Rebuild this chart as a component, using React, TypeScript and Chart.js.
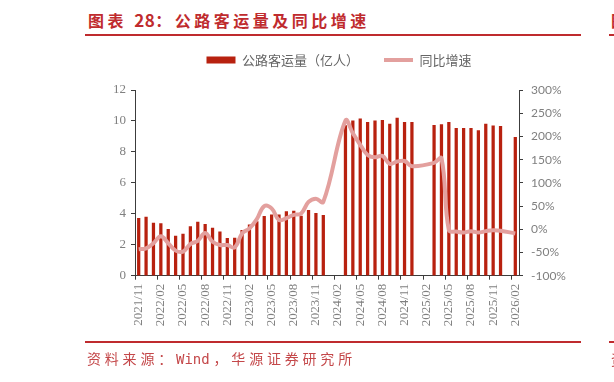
import React, { useEffect, useRef } from "react";
import { Chart, registerables } from "chart.js";

Chart.register(...registerables);

const categories: string[] = [
  "2021/11", "2021/12",
  "2022/01", "2022/02", "2022/03", "2022/04", "2022/05", "2022/06", "2022/07", "2022/08", "2022/09", "2022/10", "2022/11", "2022/12",
  "2023/01", "2023/02", "2023/03", "2023/04", "2023/05", "2023/06", "2023/07", "2023/08", "2023/09", "2023/10", "2023/11", "2023/12",
  "2024/01", "2024/02", "2024/03", "2024/04", "2024/05", "2024/06", "2024/07", "2024/08", "2024/09", "2024/10", "2024/11", "2024/12",
  "2025/01", "2025/02", "2025/03", "2025/04", "2025/05", "2025/06", "2025/07", "2025/08", "2025/09", "2025/10", "2025/11", "2025/12",
  "2026/01", "2026/02",
];

// 公路客运量（亿人）
const volume: (number | null)[] = [
  3.71, 3.79,
  3.40, 3.36, 3.00, 2.56, 2.69, 3.17, 3.47, 3.32, 3.08, 2.84, 2.41, 2.43,
  2.93, 3.28, 3.50, 3.84, 3.94, 3.94, 4.14, 4.18, 3.86, 4.22, 4.03, 3.90,
  null, null, 9.70, 10.00, 10.13, 9.91, 10.00, 10.04, 9.80, 10.19, 9.91, 9.91,
  null, null, 9.72, 9.76, 9.91, 9.53, 9.53, 9.53, 9.38, 9.80, 9.68, 9.66,
  null, 8.94,
];

// 同比增速（%）
const growth: (number | null)[] = [
  -43, -41,
  -30, -15, -30, -46, -48, -32, -25, -8, -27, -34, -34, -39,
  -9, 2, 22, 50, 45, 20, 24, 31, 34, 59, 66, 59,
  null, null, 234, 207, 182, 160, 155, 158, 141, 146, 147, 136,
  null, null, 143, 153, -2, -5, -7, -4, -7, -4, -2, -3,
  null, -9,
];

const leftTicks: number[] = [0, 2, 4, 6, 8, 10, 12];
const rightTicks: number[] = [-100, -50, 0, 50, 100, 150, 200, 250, 300];

const BAR = "#B8210F";
const LINE = "#E3A09E";
const AXIS = "#3c3c3c";
const TICK_TEXT = "#808080";
const RED = "#BF2B2E";

const legendSpacer = {
  id: "legendSpacer",
  beforeInit(chart: any) {
    const lg = chart.legend;
    if (!lg) return;
    const orig = lg.fit;
    lg.fit = function () {
      orig.call(this);
      this.height += 13.5;
    };
  },
};

export default function App() {
  const ref = useRef<HTMLCanvasElement | null>(null);

  useEffect(() => {
    if (!ref.current) return;
    const chart = new Chart(ref.current, {
      type: "bar",
      data: {
        labels: categories,
        datasets: [
          {
            type: "bar",
            label: "公路客运量（亿人）",
            data: volume,
            backgroundColor: BAR,
            borderWidth: 0,
            barThickness: 2.6,
            yAxisID: "y",
            order: 2,
            pointStyle: "rect",
          } as any,
          {
            type: "line",
            label: "同比增速",
            data: growth,
            borderColor: LINE,
            backgroundColor: LINE,
            borderWidth: 4,
            pointRadius: 0,
            pointHoverRadius: 0,
            tension: 0.4,
            spanGaps: true,
            yAxisID: "y1",
            order: 1,
            pointStyle: "line",
          } as any,
        ],
      },
      options: {
        animation: false,
        responsive: false,
        maintainAspectRatio: false,
        layout: { padding: { left: 74, right: 10, top: 28.5, bottom: 0 } },
        plugins: {
          legend: {
            position: "top",
            labels: {
              usePointStyle: true,
              pointStyleWidth: 29,
              boxHeight: 7,
              padding: 25,
              color: "#666666",
              font: { family: '"Noto Sans CJK SC"', size: 13 },
              sort: (a: any, b: any) => a.datasetIndex - b.datasetIndex,
            },
          },
          tooltip: { enabled: false },
        },
        scales: {
          x: {
            offset: true,
            grid: {
              display: true,
              offset: true,
              drawOnChartArea: false,
              drawTicks: true,
              tickLength: 4,
              tickColor: (c: any) => (c.index % 3 === 0 ? AXIS : "rgba(0,0,0,0)"),
            },
            border: { color: AXIS, width: 1 },
            ticks: {
              autoSkip: false,
              minRotation: 90,
              maxRotation: 90,
              padding: 4,
              color: TICK_TEXT,
              font: { family: '"Liberation Serif"', size: 13 },
              callback: (_v: any, i: number) => (i % 3 === 0 ? categories[i] : ""),
            },
            afterFit: (s: any) => {
              s.height = 106.3;
            },
          },
          y: {
            position: "left",
            min: 0,
            max: 12,
            grid: { display: true, drawOnChartArea: false, drawTicks: true, tickLength: 4, tickColor: AXIS },
            border: { color: AXIS, width: 1 },
            ticks: {
              padding: 5,
              color: TICK_TEXT,
              font: { family: '"Liberation Serif"', size: 13 },
            },
            afterBuildTicks: (s: any) => {
              s.ticks = leftTicks.map((v) => ({ value: v }));
            },
            afterFit: (s: any) => {
              s.width = 61;
            },
          },
          y1: {
            position: "right",
            min: -100,
            max: 300,
            grid: { display: true, drawOnChartArea: false, drawTicks: true, tickLength: 4, tickColor: AXIS },
            border: { color: AXIS, width: 1 },
            ticks: {
              padding: 8,
              color: TICK_TEXT,
              font: { family: "Lato", size: 12 },
              callback: (v: any) => `${v}%`,
            },
            afterBuildTicks: (s: any) => {
              s.ticks = rightTicks.map((v) => ({ value: v }));
            },
            afterFit: (s: any) => {
              s.width = 85;
            },
          },
        },
      } as any,
      plugins: [legendSpacer],
    });
    return () => chart.destroy();
  }, []);

  return (
    <div
      style={{
        position: "absolute",
        left: 0,
        top: 0,
        width: 614,
        height: 382,
        overflow: "hidden",
        background: "#ffffff",
      }}
    >
      <div
        style={{
          position: "absolute",
          left: 88,
          top: 9,
          fontFamily: '"Noto Sans CJK SC"',
          fontWeight: 700,
          fontSize: 16,
          lineHeight: "22px",
          letterSpacing: "3.5px",
          color: RED,
          whiteSpace: "nowrap",
        }}
      >
        图表 <span style={{ letterSpacing: "0.5px", fontSize: 17 }}>28</span>：公路客运量及同比增速
      </div>
      <div
        style={{
          position: "absolute",
          left: 611,
          top: 9,
          fontFamily: '"Noto Sans CJK SC"',
          fontWeight: 700,
          fontSize: 16,
          lineHeight: "22px",
          color: RED,
          whiteSpace: "nowrap",
        }}
      >
        图
      </div>
      <div style={{ position: "absolute", left: 85, top: 34, width: 496, height: 2, background: RED }} />
      <div style={{ position: "absolute", left: 609, top: 34, width: 10, height: 2, background: RED }} />
      <canvas
        ref={ref}
        width={614}
        height={382}
        style={{ position: "absolute", left: 0, top: 0, width: 614, height: 382 }}
      />
      <div style={{ position: "absolute", left: 85, top: 341, width: 496, height: 2, background: RED }} />
      <div style={{ position: "absolute", left: 609, top: 341, width: 10, height: 2, background: RED }} />
      <div
        style={{
          position: "absolute",
          left: 87,
          top: 350,
          fontFamily: '"DejaVu Sans Mono", "Noto Sans CJK SC"',
          fontSize: 14,
          lineHeight: "18px",
          letterSpacing: "3.8px",
          color: "#C4484A",
          whiteSpace: "nowrap",
        }}
      >
        资料来源：<span style={{ letterSpacing: "0px" }}>Win</span>d，华源证券研究所
      </div>
      <div
        style={{
          position: "absolute",
          left: 611,
          top: 350,
          fontFamily: '"Noto Sans CJK SC"',
          fontSize: 14,
          lineHeight: "18px",
          color: "#C4484A",
          whiteSpace: "nowrap",
        }}
      >
        资
      </div>
    </div>
  );
}
